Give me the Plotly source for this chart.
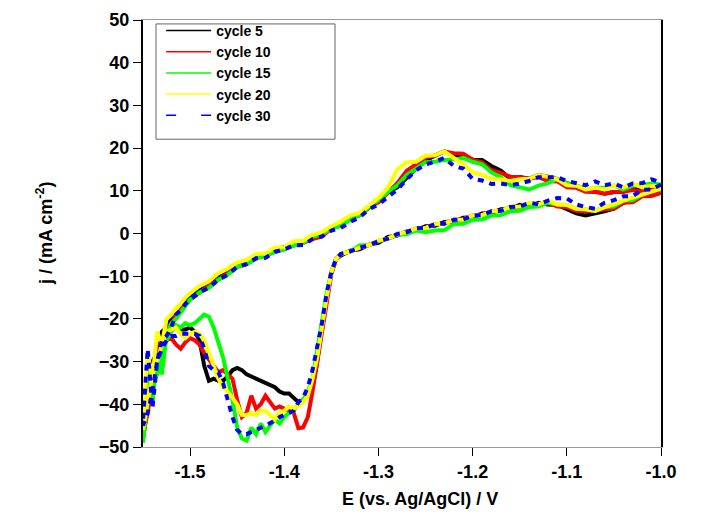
import plotly.graph_objects as go

# Potential grids (V) for the cathodic (lower) and anodic (upper) branches
E_cath = [-1.00, -1.01, -1.02, -1.03, -1.04, -1.05, -1.06, -1.07, -1.08, -1.09,
          -1.10, -1.11, -1.12, -1.13, -1.14, -1.15, -1.16, -1.17, -1.18, -1.19,
          -1.20, -1.21, -1.22, -1.23, -1.24, -1.25, -1.26, -1.27, -1.28, -1.29,
          -1.30, -1.31, -1.32, -1.33, -1.34,
          -1.345, -1.35, -1.355, -1.36, -1.365, -1.37, -1.375, -1.38, -1.385, -1.39,
          -1.395, -1.40, -1.405, -1.41, -1.415, -1.42, -1.425, -1.43, -1.435, -1.44,
          -1.445, -1.45, -1.455, -1.46, -1.465, -1.47, -1.475, -1.48, -1.485, -1.49,
          -1.495, -1.50, -1.505, -1.51, -1.515, -1.52, -1.525, -1.53, -1.535, -1.54,
          -1.545, -1.55]
E_anod = [-1.55, -1.545, -1.54, -1.535, -1.53, -1.525, -1.52, -1.515, -1.51, -1.505, -1.50,
          -1.49, -1.48, -1.47, -1.46, -1.45, -1.44, -1.43, -1.42, -1.41, -1.40,
          -1.39, -1.38, -1.37, -1.36, -1.35, -1.34, -1.33, -1.32, -1.31, -1.30,
          -1.29, -1.28, -1.27, -1.26, -1.25, -1.24, -1.23, -1.22, -1.21, -1.20,
          -1.19, -1.18, -1.17, -1.16, -1.15, -1.14, -1.13, -1.12, -1.11, -1.10,
          -1.09, -1.08, -1.07, -1.06, -1.05, -1.04, -1.03, -1.02, -1.01, -1.00]

# Current density (mA cm-2), cathodic branch
c5_cath = [10.5, 9.2, 9.3, 7.8, 7.2, 5.8, 5.2, 4.8, 4.2, 4.7, 5.8, 6.7, 6.8, 7.2, 6.3, 6.7, 5.8, 5.7, 4.8, 4.7,
           3.8, 3.7, 2.8, 2.7, 1.8, 1.7, 0.8, 0.5, -0.5, -0.8, -2.2, -2.6, -3.7, -4.0, -5.2,
           -6, -9, -15, -22, -30, -36, -38, -39, -39.5, -38.5,
           -37.5, -37.5, -37, -36, -35.5, -35, -34.5, -34, -33.5, -33,
           -32, -31.5, -32, -33.5, -34.5, -34.5, -34, -34.5, -31, -25,
           -23, -22, -22.5, -22.5, -22, -22.5, -23, -24, -27, -33, -40, -48]
c10_cath = [9.5, 8.8, 8.7, 7.3, 7.2, 5.8, 5.7, 5.3, 5.2, 5.3, 6.2, 6.3, 7.2, 6.8, 6.7, 5.8, 6.2, 5.3, 5.2, 4.3,
            4.2, 3.3, 3.2, 2.3, 2.2, 1.3, 1.2, 0.3, -0.3, -1.2, -1.8, -2.7, -3.3, -4.2, -4.8,
            -6, -9.5, -16, -23, -30, -37, -43, -45.4, -45.6, -42,
            -41.5, -41, -40.5, -41, -39.5, -38, -40, -41, -38, -42,
            -43, -39, -34, -33, -32, -32.5, -31, -29.5, -28, -26,
            -25, -24.5, -25.5, -27, -26, -24.5, -25, -27, -30, -34, -42, -47]
c15_cath = [10.5, 9.8, 9.2, 7.8, 7.7, 6.3, 6.2, 5.3, 5.7, 5.8, 6.7, 6.8, 7.2, 6.3, 6.2, 5.3, 5.2, 4.3, 4.2, 3.3,
            3.2, 2.3, 2.2, 0.8, 0.7, 0.3, 0.7, -0.2, -0.3, -1.2, -1.8, -2.7, -2.8, -4.2, -4.8,
            -6, -9, -14, -21, -28, -34, -37, -39, -40, -41.5,
            -42, -43, -44.5, -43.5, -45, -46.5, -44.5, -47, -45.5, -48.5,
            -48, -45.5, -39, -33.5, -29, -25.5, -22, -19.5, -19, -20,
            -21, -21.5, -21, -22, -21.5, -23, -25, -29, -33, -35, -38, -49]
c20_cath = [10.5, 9.8, 9.2, 8.3, 7.7, 6.8, 6.2, 5.3, 5.7, 5.8, 6.7, 6.8, 7.7, 6.8, 7.2, 6.3, 6.2, 5.3, 5.2, 4.3,
            4.2, 3.3, 3.2, 2.3, 2.2, 1.3, 1.2, 0.3, -0.1, -1.2, -1.6, -2.7, -3.3, -4.2, -4.8,
            -6, -9, -15, -22, -29, -34, -38, -39.5, -40.5, -41,
            -40.5, -41.5, -42, -43.5, -42.5, -41.5, -41.5, -42.5, -42, -42.5,
            -42.5, -40, -38.5, -37, -36, -34, -31, -28, -25, -23.5,
            -23, -23.5, -24.5, -23.5, -22, -22.5, -23, -26, -30, -33, -40, -46]
c30_cath = [11.5, 10.3, 10.2, 8.8, 8.7, 7.8, 7.2, 5.8, 6.2, 6.8, 8.2, 8.3, 7.7, 6.8, 7.2, 6.3, 6.2, 5.3, 5.2, 4.3,
            4.2, 3.3, 3.2, 2.3, 2.2, 1.3, 1.2, 0.3, -0.1, -1.2, -1.8, -2.7, -3.3, -4.2, -4.8,
            -6, -9, -14, -21, -27, -32, -36, -38.5, -39.5, -41.5,
            -42, -42.5, -43, -43.8, -44.5, -45, -45.5, -46, -46.5, -47,
            -47, -46, -43, -39, -35, -32.5, -32, -31, -27, -24,
            -23.5, -23.5, -23.5, -23.5, -24, -24, -25, -27, -30, -37, -42, -45]

# Current density (mA cm-2), anodic branch
c5_anod = [-48, -38, -30, -28, -23, -22, -20, -19, -18, -16, -15,
           -13.3, -12.2, -10.3, -9.2, -7.3, -6.7, -5.3, -5.2, -3.8, -3.2,
           -2.3, -2.2, -0.8, -0.2, 1.5, 2.3, 3.7, 4.3, 6.2, 7.8,
           9.7, 10.8, 13.2, 15.3, 17.2, 18.3, 19.2, 18.3, 18.2, 17.3,
           17.2, 15.8, 14.7, 12.8, 13.2, 12.8, 13.7, 13.3, 12.7, 11.8,
           11.2, 10.3, 10.2, 9.3, 9.7, 9.8, 10.7, 10.3, 11.2, 11]
c10_anod = [-47, -33, -36, -26, -25, -22, -21.5, -19, -18, -16.5, -15.5,
            -13.8, -12.2, -10.8, -9.2, -7.8, -7.2, -5.8, -5.2, -4.3, -3.7,
            -2.8, -2.2, -1.3, -0.7, 1.2, 1.8, 3.7, 4.3, 6.2, 7.3,
            9.7, 11.8, 14.7, 16.3, 17.7, 18.3, 19.2, 18.8, 18.7, 17.3,
            16.7, 14.8, 14.2, 13.3, 13.2, 12.8, 13.2, 12.3, 12.2, 10.8,
            10.7, 9.8, 9.7, 9.3, 9.7, 9.8, 10.2, 9.8, 10.7, 10.5]
c15_anod = [-49, -30, -40, -28, -33, -24, -21, -20, -18.5, -17, -15.5,
            -13.8, -12.7, -10.8, -9.7, -7.8, -7.2, -5.8, -5.2, -4.3, -3.7,
            -2.8, -2.2, -0.8, -0.2, 1.2, 1.8, 3.2, 4.3, 6.2, 7.8,
            9.7, 11.3, 13.7, 15.3, 16.7, 16.8, 17.2, 17.3, 17.7, 16.8,
            16.2, 14.3, 13.2, 11.3, 10.7, 10.3, 11.2, 11.8, 12.7, 11.8,
            11.2, 10.3, 10.7, 10.8, 11.2, 10.3, 11.2, 11.3, 11.7, 11.5]
c20_anod = [-45, -28, -34, -23, -26, -20, -19, -17.5, -16.5, -15, -14,
            -12.3, -11.2, -9.3, -8.2, -6.8, -6.2, -4.8, -4.7, -3.3, -3.2,
            -1.8, -1.7, -0.3, 0.3, 1.7, 2.8, 4.2, 4.8, 6.7, 8.3,
            10.7, 15, 16.7, 16.8, 18.2, 18.3, 19.2, 17.8, 16.2, 14.3,
            13.7, 12.8, 12.7, 12.3, 12.7, 12.8, 13.7, 13.3, 12.7, 11.3,
            11.2, 10.3, 10.7, 10.3, 11.2, 10.8, 11.7, 10.8, 11.2, 11]
c30_anod = [-44, -27, -41, -30, -25, -24, -22, -19, -18, -16.5, -15.5,
            -13.8, -12.7, -10.8, -9.7, -7.8, -7.2, -5.8, -5.7, -4.3, -3.7,
            -2.8, -2.7, -1.3, -0.7, 0.7, 1.3, 2.7, 3.8, 5.7, 6.8,
            8.7, 10.3, 12.7, 14.8, 16.2, 16.8, 17.7, 15.8, 15.2, 12.8,
            12.4, 11.6, 11.7, 11.3, 11.7, 12.3, 13.2, 13.3, 13.2, 12.3,
            11.7, 11.3, 12.2, 11.3, 11.7, 10.8, 11.7, 11.8, 12.7, 12]

labels = ["cycle 5", "cycle 10", "cycle 15", "cycle 20", "cycle 30"]
colors = ["#000000", "#ff0000", "#00ff00", "#ffff00", "#0000ff"]
cath = [c5_cath, c10_cath, c15_cath, c20_cath, c30_cath]
anod = [c5_anod, c10_anod, c15_anod, c20_anod, c30_anod]

x_ticks = [-1.5, -1.4, -1.3, -1.2, -1.1, -1.0]
x_ticktext = ["-1.5", "-1.4", "-1.3", "-1.2", "-1.1", "-1.0"]
y_ticks = [50, 40, 30, 20, 10, 0, -10, -20, -30, -40, -50]

FONT = "Liberation Sans"

fig = go.Figure()
for lab, col, yc, ya in zip(labels, colors, cath, anod):
    dash = "6px,6px" if col == "#0000ff" else "solid"
    fig.add_trace(go.Scatter(
        x=E_cath + E_anod, y=yc + ya, mode="lines",
        line=dict(color=col, width=4, dash=dash),
        showlegend=False, hoverinfo="skip"))
# thin legend samples, as in the reference legend
for lab, col in zip(labels, colors):
    dash = "10px,25px" if col == "#0000ff" else "solid"
    fig.add_trace(go.Scatter(
        x=[None], y=[None], mode="lines", name=lab,
        line=dict(color=col, width=1.5, dash=dash)))

fig.update_layout(
    width=711, height=517,
    margin=dict(l=143, r=50, t=10, b=70),
    paper_bgcolor="white", plot_bgcolor="white",
    font=dict(family=FONT, color="black", size=18, weight="bold"),
    legend=dict(x=0.035, y=1.012, xanchor="left", yanchor="top",
                borderwidth=0, bgcolor="rgba(0,0,0,0)",
                font=dict(family=FONT, size=14, weight="bold"),
                itemwidth=45, tracegroupgap=0),
    shapes=[dict(type="rect", xref="paper", yref="paper",
                 x0=0.0251, x1=0.3707, y0=0.7208, y1=0.9908,
                 line=dict(color="#666666", width=1), layer="above")],
    xaxis=dict(range=[-1.55, -1.0], tickvals=x_ticks, ticktext=x_ticktext,
               ticks="outside", ticklen=8, tickcolor="black",
               showline=True, linecolor="#999999", linewidth=1, mirror=True,
               showgrid=False, zeroline=False,
               tickfont=dict(family=FONT, size=18, weight="bold")),
    yaxis=dict(range=[-50, 50], tickvals=y_ticks,
               ticks="outside", ticklen=8, tickcolor="black",
               showline=True, linecolor="black", linewidth=2, mirror=True,
               showgrid=False, zeroline=False,
               tickfont=dict(family=FONT, size=18, weight="bold")),
    annotations=[
        dict(text="E (vs. Ag/AgCl) / V", xref="paper", yref="paper",
             x=0.535, y=-0.121, xanchor="center", yanchor="middle",
             showarrow=False, font=dict(family=FONT, size=18, weight="bold")),
        dict(text="j / (mA cm<sup>-2</sup>)", xref="paper", yref="paper",
             x=-0.19, y=0.5, xanchor="center", yanchor="middle", textangle=-90,
             showarrow=False, font=dict(family=FONT, size=18, weight="bold")),
    ],
)

fig.write_html("out.html")
